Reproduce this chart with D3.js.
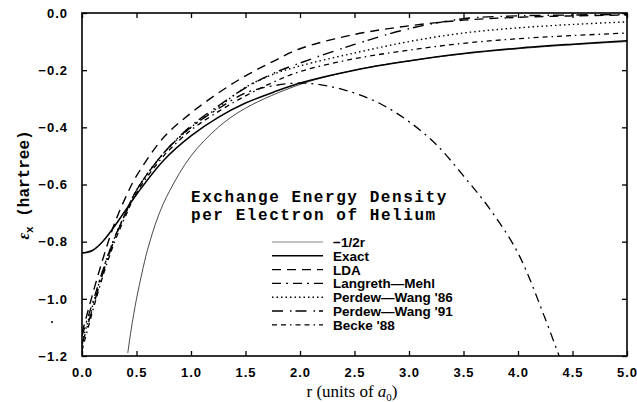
<!DOCTYPE html>
<html>
<head>
<meta charset="utf-8">
<script src="https://cdn.jsdelivr.net/npm/d3@7"></script>
<style>
  body { margin: 0; background: #fff; }
  svg { display: block; }
  .tick text { font-family: "Liberation Sans", Arial, sans-serif; font-weight: bold; font-size: 13px; letter-spacing: 1px; }
</style>
</head>
<body>
<svg id="chart" width="637" height="402"></svg>
<script>
// values (r in units of a0, eps_x in hartree)
var rGrid = [0, 0.1, 0.2, 0.3, 0.4, 0.5, 0.75, 1.0, 1.25, 1.5, 1.75, 2.0, 2.5, 3.0, 3.5, 4.0, 4.5, 5.0];

var exact = [-0.84, -0.83, -0.795, -0.745, -0.69, -0.635, -0.515, -0.43, -0.365, -0.315, -0.278, -0.245, -0.2, -0.168, -0.142, -0.123, -0.109, -0.097];
var lda   = [-1.12, -0.98, -0.85, -0.735, -0.645, -0.57, -0.435, -0.35, -0.28, -0.22, -0.17, -0.125, -0.075, -0.045, -0.025, -0.015, -0.01, -0.007];
var pw86  = [-1.15, -1.02, -0.89, -0.785, -0.70, -0.62, -0.49, -0.40, -0.33, -0.26, -0.215, -0.185, -0.14, -0.10, -0.07, -0.052, -0.04, -0.031];
var pw91  = [-1.16, -1.03, -0.90, -0.79, -0.70, -0.62, -0.49, -0.395, -0.325, -0.262, -0.212, -0.175, -0.11, -0.055, -0.02, -0.01, -0.007, -0.005];
var becke = [-1.18, -1.04, -0.91, -0.80, -0.71, -0.63, -0.50, -0.41, -0.345, -0.29, -0.243, -0.205, -0.16, -0.13, -0.106, -0.09, -0.079, -0.07];

var rLM = [0, 0.1, 0.2, 0.3, 0.4, 0.5, 0.75, 1.0, 1.25, 1.5, 1.75, 2.0, 2.25, 2.5, 2.75, 3.0, 3.25, 3.5, 3.75, 4.0, 4.25, 4.5];
var lm  = [-1.13, -1.01, -0.89, -0.785, -0.70, -0.62, -0.49, -0.40, -0.335, -0.28, -0.255, -0.245, -0.255, -0.28, -0.32, -0.38, -0.46, -0.57, -0.69, -0.84, -1.07, -1.33];

var rHalf = [0.42, 0.45, 0.5, 0.55, 0.6, 0.7, 0.8, 1.0, 1.25, 1.5, 2.0, 2.5, 3.0, 3.5, 4.0, 4.5, 5.0];
var half  = [-1.19, -1.11, -1.0, -0.91, -0.83, -0.71, -0.625, -0.5, -0.4, -0.333, -0.25, -0.2, -0.167, -0.143, -0.125, -0.111, -0.1];

var xTicks = [0, 0.5, 1.0, 1.5, 2.0, 2.5, 3.0, 3.5, 4.0, 4.5, 5.0];
var yTicks = [0, -0.2, -0.4, -0.6, -0.8, -1.0, -1.2];

var legendNames = ["\u22121/2r", "Exact", "LDA", "Langreth\u2014Mehl", "Perdew\u2014Wang '86", "Perdew\u2014Wang '91", "Becke '88"];
var titleLines = ["Exchange Energy Density", "per Electron of Helium"];

var svg = d3.select("#chart");
var pLeft = 82, pRight = 627, pTop = 13, pBottom = 356;

var x = d3.scaleLinear().domain([0, 5]).range([pLeft, pRight]);
var y = d3.scaleLinear().domain([-1.2, 0]).range([pBottom, pTop]);

// one entry per legend row, same order
var series = [
  { r: rHalf, v: half,  dash: null,            w: 0.9, col: "#333" },
  { r: rGrid, v: exact, dash: null,            w: 1.5, col: "#000" },
  { r: rGrid, v: lda,   dash: "9,6",           w: 1.4, col: "#000" },
  { r: rLM,   v: lm,    dash: "9,5,2,5",       w: 1.3, col: "#000" },
  { r: rGrid, v: pw86,  dash: "1.5,3",         w: 1.4, col: "#000" },
  { r: rGrid, v: pw91,  dash: "11,7,1.5,4",    w: 1.4, col: "#000" },
  { r: rGrid, v: becke, dash: "5,4,5,4,1.5,4", w: 1.3, col: "#000" }
];

svg.append("clipPath").attr("id", "clip")
  .append("rect").attr("x", pLeft).attr("y", pTop).attr("width", pRight - pLeft).attr("height", pBottom - pTop);

var line = d3.line()
  .x(function (d) { return x(d[0]); })
  .y(function (d) { return y(d[1]); })
  .curve(d3.curveCatmullRom.alpha(0.5));

var plot = svg.append("g").attr("clip-path", "url(#clip)");
series.forEach(function (s) {
  var pts = s.r.map(function (r, i) { return [r, s.v[i]]; });
  plot.append("path")
    .attr("d", line(pts))
    .attr("fill", "none")
    .attr("stroke", s.col)
    .attr("stroke-width", s.w)
    .attr("stroke-dasharray", s.dash);
});

// axes, ticks pointing inward on all four sides
function fmt(d) { return d3.format(".1f")(d).replace("-", "\u2212"); }

svg.append("g").attr("transform", "translate(0," + pBottom + ")")
  .call(d3.axisBottom(x).tickValues(xTicks).tickSizeInner(-5).tickSizeOuter(0).tickPadding(12).tickFormat(fmt))
  .call(function (g) { g.select(".domain").remove(); });
svg.append("g").attr("transform", "translate(0," + pTop + ")")
  .call(d3.axisTop(x).tickValues(xTicks).tickSizeInner(-5).tickSizeOuter(0).tickFormat(""))
  .call(function (g) { g.select(".domain").remove(); });
svg.append("g").attr("transform", "translate(" + pLeft + ",0)")
  .call(d3.axisLeft(y).tickValues(yTicks).tickSizeInner(-5).tickSizeOuter(0).tickPadding(14).tickFormat(fmt))
  .call(function (g) { g.select(".domain").remove(); });
svg.append("g").attr("transform", "translate(" + pRight + ",0)")
  .call(d3.axisRight(y).tickValues(yTicks).tickSizeInner(-5).tickSizeOuter(0).tickFormat(""))
  .call(function (g) { g.select(".domain").remove(); });

svg.selectAll(".tick line").attr("stroke-width", 1.3);
svg.selectAll(".tick text").attr("fill", "#000");

svg.append("rect")
  .attr("x", pLeft).attr("y", pTop).attr("width", pRight - pLeft).attr("height", pBottom - pTop)
  .attr("fill", "none").attr("stroke", "#000").attr("stroke-width", 1.6);

// x axis title
var xt = svg.append("text")
  .attr("x", 352).attr("y", 397)
  .attr("text-anchor", "middle")
  .style("font-family", "'Liberation Serif', 'DejaVu Serif', serif")
  .style("font-size", "17px");
xt.append("tspan").text("r (units of ");
xt.append("tspan").style("font-style", "italic").text("a");
xt.append("tspan").attr("dy", 4).style("font-size", "11px").text("0");
xt.append("tspan").attr("dy", -4).text(")");

// y axis title
var yt = svg.append("text")
  .attr("transform", "translate(29,185) rotate(-90)")
  .attr("text-anchor", "middle")
  .style("font-family", "'Liberation Mono', 'DejaVu Sans Mono', monospace")
  .style("font-weight", "bold")
  .style("font-size", "16px");
yt.append("tspan").style("font-family", "'Liberation Serif', serif").style("font-style", "italic").text("\u03b5");
yt.append("tspan").attr("dy", 4).style("font-size", "11px").text("x");
yt.append("tspan").attr("dy", -4).text(" (hartree)");

// chart title
svg.selectAll(".title").data(titleLines).join("text")
  .attr("class", "title")
  .attr("x", 191)
  .attr("y", function (d, i) { return 202 + i * 18; })
  .attr("textLength", function (d) { return d.length * 11.1; })
  .attr("lengthAdjust", "spacing")
  .style("font-family", "'Liberation Mono', 'DejaVu Sans Mono', monospace")
  .style("font-weight", "bold")
  .style("font-size", "16px")
  .text(function (d) { return d; });

// legend
var leg = svg.selectAll(".leg").data(series).join("g")
  .attr("class", "leg")
  .attr("transform", function (d, i) { return "translate(272," + (242 + i * 13.8) + ")"; });
leg.append("line")
  .attr("x1", 0).attr("x2", 51)
  .attr("stroke", function (d) { return d.col === "#333" ? "#777" : "#000"; })
  .attr("stroke-width", function (d) { return d.w; })
  .attr("stroke-dasharray", function (d) { return d.dash; });
leg.append("text")
  .attr("x", 61).attr("y", 5)
  .style("font-family", "'Liberation Sans', Arial, sans-serif")
  .style("font-weight", "bold")
  .style("font-size", "13.5px")
  .text(function (d, i) { return legendNames[i]; });

// small speck left of the axis in the scan
svg.append("circle").attr("cx", 52).attr("cy", 322).attr("r", 1).attr("fill", "#000");
</script>
</body>
</html>
